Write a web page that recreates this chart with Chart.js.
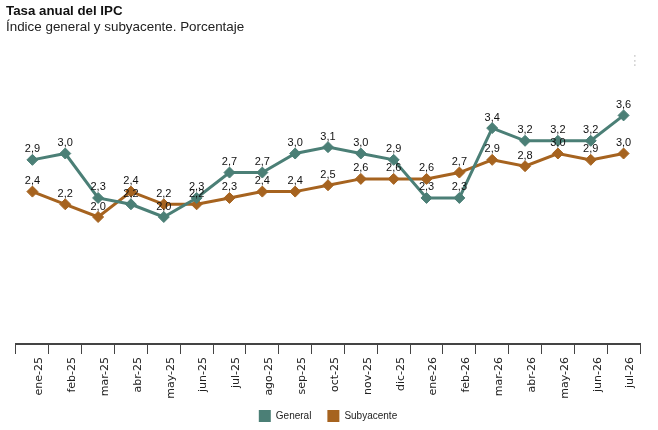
<!DOCTYPE html>
<html>
<head>
<meta charset="utf-8">
<script src="https://cdn.jsdelivr.net/npm/chart.js@4.4.1/dist/chart.umd.min.js"></script>
<style>
  html, body { margin: 0; padding: 0; background: #fff; }
  #wrap { position: relative; width: 658px; height: 430px; overflow: hidden; }
  #title { position: absolute; left: 6px; top: 3px; font: bold 13.3px "Liberation Sans", Arial, sans-serif; color: #111; }
  #subtitle { position: absolute; left: 6px; top: 19px; font: 13.4px "Liberation Sans", Arial, sans-serif; color: #222; }
  #menu { position: absolute; left: 628px; top: 52px; font: 14px "DejaVu Sans", sans-serif; color: #d0d0d0; }
  canvas { position: absolute; left: 0; top: 0; }
</style>
</head>
<body>
<div id="wrap">
  <canvas id="c" width="658" height="430"></canvas>
  <div id="title">Tasa anual del IPC</div>
  <div id="subtitle">Índice general y subyacente. Porcentaje</div>
  <div id="menu">⋮</div>
</div>
<script>
const categories = ["ene-25","feb-25","mar-25","abr-25","may-25","jun-25","jul-25","ago-25","sep-25","oct-25","nov-25","dic-25","ene-26","feb-26","mar-26","abr-26","may-26","jun-26","jul-26"];
const general    = [2.9, 3.0, 2.3, 2.2, 2.0, 2.3, 2.7, 2.7, 3.0, 3.1, 3.0, 2.9, 2.3, 2.3, 3.4, 3.2, 3.2, 3.2, 3.6];
const subyacente = [2.4, 2.2, 2.0, 2.4, 2.2, 2.2, 2.3, 2.4, 2.4, 2.5, 2.6, 2.6, 2.6, 2.7, 2.9, 2.8, 3.0, 2.9, 3.0];

const colGeneral = "#4b7f76";
const colSuby = "#a6631f";

const valueLabels = {
  id: "valueLabels",
  afterDatasetsDraw(chart) {
    const ctx = chart.ctx;
    ctx.save();
    ctx.font = '11px "Liberation Sans", Arial, sans-serif';
    ctx.fillStyle = "#111";
    ctx.textAlign = "center";
    ctx.textBaseline = "bottom";
    chart.data.datasets.forEach((ds, i) => {
      const meta = chart.getDatasetMeta(i);
      meta.data.forEach((pt, j) => {
        const v = ds.data[j];
        ctx.fillText(v.toFixed(1).replace(".", ","), pt.x, pt.y - 5);
      });
    });
    ctx.restore();
  }
};

// let the rotated tick labels overflow the (deliberately compact) x-axis box
const noLabelClip = {
  id: "noLabelClip",
  beforeDraw(chart) {
    const s = chart.scales.x;
    if (s) s._computeLabelArea = () => undefined;
  }
};

new Chart(document.getElementById("c"), {
  type: "line",
  data: {
    labels: categories,
    datasets: [
      { label: "General", data: general, borderColor: colGeneral, backgroundColor: colGeneral,
        borderWidth: 3, pointStyle: "rectRot", pointRadius: 5.5, pointBackgroundColor: colGeneral,
        pointBorderColor: colGeneral, pointBorderWidth: 1, tension: 0, clip: false },
      { label: "Subyacente", data: subyacente, borderColor: colSuby, backgroundColor: colSuby,
        borderWidth: 3, pointStyle: "rectRot", pointRadius: 5.5, pointBackgroundColor: colSuby,
        pointBorderColor: colSuby, pointBorderWidth: 1, tension: 0, clip: false }
    ]
  },
  options: {
    responsive: false,
    animation: false,
    devicePixelRatio: 1,
    layout: { padding: { left: 16, right: 18, top: 90, bottom: -2 } },
    scales: {
      x: {
        offset: true,
        afterFit(scale) { scale.height = 50; },
        grid: { display: true, offset: true, drawOnChartArea: false, tickLength: 10, color: "#444", lineWidth: 1 },
        border: { display: true, color: "#444", width: 2 },
        ticks: { minRotation: 90, maxRotation: 90, autoSkip: false, padding: 3, labelOffset: 7, color: "#222",
                 font: { family: '"DejaVu Sans", Verdana, sans-serif', size: 11 } }
      },
      y: { display: false, min: 0, max: 4 }
    },
    plugins: {
      legend: {
        position: "bottom",
        labels: { boxWidth: 12, boxHeight: 12, padding: 16, color: "#222",
                  font: { family: '"Liberation Sans", Arial, sans-serif', size: 10 },
                  generateLabels(ch) {
                    const items = Chart.defaults.plugins.legend.labels.generateLabels(ch);
                    items.forEach(it => { it.lineWidth = 0; });
                    return items;
                  } }
      },
      tooltip: { enabled: false }
    }
  },
  plugins: [valueLabels, noLabelClip]
});
</script>
</body>
</html>
